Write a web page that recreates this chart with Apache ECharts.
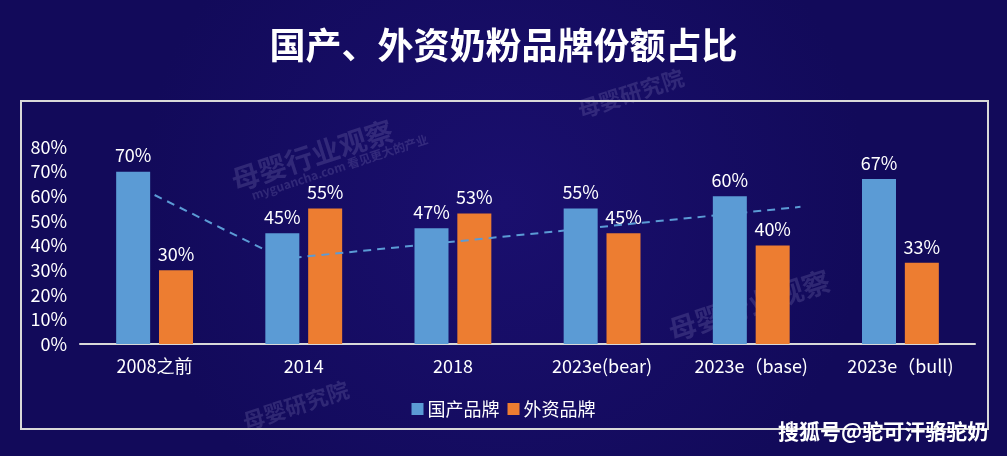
<!DOCTYPE html>
<html>
<head>
<meta charset="utf-8">
<script src="https://cdn.jsdelivr.net/npm/echarts@6/dist/echarts.min.js"></script>
<style>
html,body{margin:0;padding:0;background:#150c64;}
#c{width:1007px;height:456px;}
</style>
</head>
<body>
<div id="c"></div>
<script>
const categories = ['2008之前', '2014', '2018', '2023e(bear)', '2023e（base)', '2023e（bull)'];
const domestic = [70, 45, 47, 55, 60, 67];
const foreign = [30, 55, 53, 45, 40, 33];
const seriesNames = ['国产品牌', '外资品牌'];
const trendX = [0, 0.86, 4.33];
const trendY = [60.5, 34.6, 55.7];
const yTicks = { min: 0, max: 80, interval: 10 };

const FONT = "'Noto Sans CJK SC', 'Noto Sans', sans-serif";
const chart = echarts.init(document.getElementById('c'), null, { renderer: 'canvas' });

const wm = (text, x, y, rot, size) => ({
  type: 'text', x: x, y: y, rotation: rot * Math.PI / 180, z: 0, silent: true,
  style: { text: text, fill: 'rgba(200,190,235,0.16)', font: 'bold ' + size + 'px ' + FONT }
});

chart.setOption({
  backgroundColor: {
    type: 'radial', x: 0.5, y: 0.45, r: 0.8,
    colorStops: [{ offset: 0, color: '#1a0f6e' }, { offset: 1, color: '#120a5a' }]
  },
  animation: false,
  title: {
    text: '国产、外资奶粉品牌份额占比',
    left: 'center', top: 22,
    textStyle: { color: '#ffffff', fontSize: 36, fontWeight: 'bold', fontFamily: FONT }
  },
  legend: {
    data: seriesNames,
    left: 'center', top: 395,
    itemWidth: 12, itemHeight: 12, itemGap: 8,
    icon: 'rect',
    textStyle: { color: '#ffffff', fontSize: 18, fontFamily: FONT, padding: [0, 0, 0, -1] }
  },
  grid: { left: 80, right: 32, top: 147, bottom: 112, containLabel: false },
  xAxis: [{
    type: 'category', data: categories,
    axisLine: { lineStyle: { color: '#d9d9d9', width: 2 } },
    axisTick: { show: false },
    axisLabel: { color: '#ffffff', fontSize: 18, fontFamily: FONT, margin: 13, interval: 0 }
  }, {
    type: 'value', min: -0.5, max: 5.5, show: false
  }],
  yAxis: {
    type: 'value', min: yTicks.min, max: yTicks.max, interval: yTicks.interval,
    axisLine: { show: false }, axisTick: { show: false }, splitLine: { show: false },
    axisLabel: { color: '#ffffff', fontSize: 18, fontFamily: FONT, margin: 13, formatter: '{value}%' }
  },
  series: [{
    name: seriesNames[0], type: 'bar', data: domestic, barWidth: 34, barGap: '26%', z: 4,
    itemStyle: { color: '#5B9BD5' },
    label: { show: true, position: 'top', distance: 7, color: '#ffffff', fontSize: 18, fontFamily: FONT, formatter: '{c}%' }
  }, {
    name: seriesNames[1], type: 'bar', data: foreign, barWidth: 34, barGap: '26%', z: 2,
    itemStyle: { color: '#ED7D31' },
    label: { show: true, position: 'top', distance: 7, color: '#ffffff', fontSize: 18, fontFamily: FONT, formatter: '{c}%' }
  }, {
    name: 'trend', type: 'line', xAxisIndex: 1, z: 3,
    data: trendX.map((x, i) => [x, trendY[i]]),
    symbol: 'none', smooth: false,
    lineStyle: { color: '#5B9BD5', width: 2, type: [8, 6] }
  }],
  graphic: [
    wm('母婴行业观察', 228, 168, 18, 28),
    wm('myguancha.com 看见更大的产业', 250, 190, 18, 12),
    wm('母婴行业观察', 665, 318, 18, 28),
    wm('母婴研究院', 575, 100, 18, 22),
    wm('母婴研究院', 240, 412, 18, 22),
    {
      type: 'rect', z: 1, silent: true,
      shape: { x: 21, y: 101, width: 967, height: 328 },
      style: { fill: null, stroke: '#d9d9d9', lineWidth: 2 }
    },
    {
      type: 'text', x: 778, y: 421, z: 10, silent: true,
      style: {
        text: '搜狐号@驼可汗骆驼奶', fill: '#ffffff', font: 'bold 21px ' + FONT,
        shadowColor: 'rgba(0,0,0,0.9)', shadowOffsetX: 2, shadowOffsetY: 2, shadowBlur: 1
      }
    }
  ]
});
</script>
</body>
</html>
